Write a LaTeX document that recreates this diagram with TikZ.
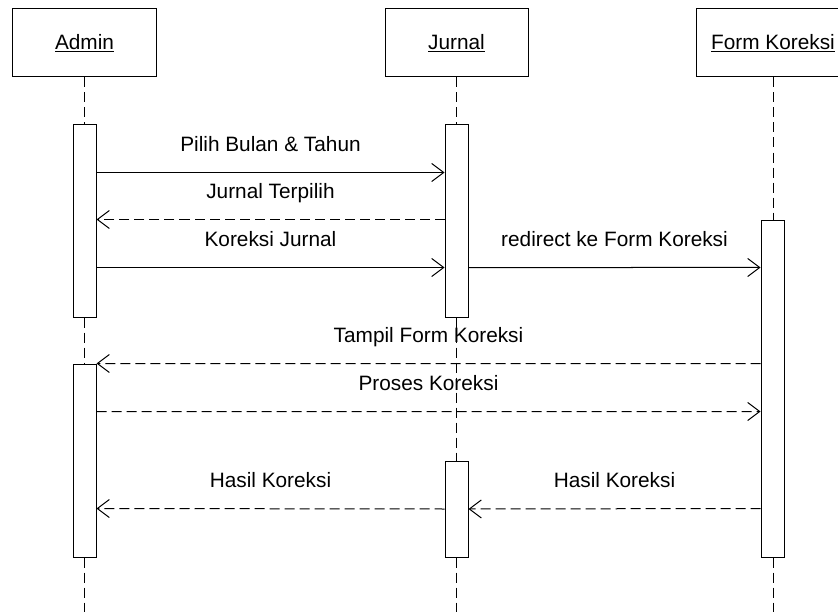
\documentclass[tikz,border=0pt]{standalone}
\usepackage{fontspec}
\setmainfont{Liberation Sans}
\usetikzlibrary{arrows.meta}
\begin{document}
\begin{tikzpicture}[x=1bp,y=-1bp,
  font=\fontsize{20.8bp}{25bp}\selectfont,
  actor/.style={draw, line width=1bp, fill=white, minimum height=68bp, inner sep=0pt},
  actbox/.style={draw, line width=1bp, fill=white, minimum width=23bp, inner sep=0pt},
  lifeline/.style={line width=1bp, dash pattern=on 10bp off 5bp},
  msg/.style={line width=1bp, -{Straight Barb[length=12bp,width=18bp]}},
  ret/.style={msg, dash pattern=on 10bp off 5bp},
  lbl/.style={anchor=base, yshift=21bp, inner sep=0pt}]
\useasboundingbox (0,0) rectangle (838,612);
% actors
\node[actor, minimum width=143bp] (admin) at (84.5,43) {\underline{Admin}};
\node[actor, minimum width=143bp] (jurnal) at (456.5,43) {\underline{Jurnal}};
\node[actor, minimum width=154bp] (form) at (773,43) {\underline{Form Koreksi}};
% lifelines
\coordinate (bot) at (0,612);
\draw[lifeline] (admin.south) -- (admin.south |- bot);
\draw[lifeline] (jurnal.south) -- (jurnal.south |- bot);
\draw[lifeline] (form.south) -- (form.south |- bot);
% activations
\node[actbox, minimum height=192bp] (a1) at (84.5,221) {};
\node[actbox, minimum height=193bp] (a2) at (84.5,460.5) {};
\node[actbox, minimum height=192bp] (j1) at (456.5,221) {};
\node[actbox, minimum height=96bp] (j2) at (456.5,509) {};
\node[actbox, minimum height=336bp] (f1) at (772.5,389) {};
% messages
\draw[msg] ([yshift=-48bp]a1.north east) -- ([yshift=-48bp]j1.north west)
  node[lbl, midway] {Pilih Bulan \& Tahun};
\draw[ret] ([yshift=-95bp]j1.north west) -- ([yshift=-95bp]a1.north east)
  node[lbl, midway] {Jurnal Terpilih};
\draw[msg] ([yshift=-143bp]a1.north east) -- ([yshift=-143bp]j1.north west)
  node[lbl, midway] {Koreksi Jurnal};
\draw[msg] ([yshift=-143bp]j1.north east) -- ([yshift=-47bp]f1.north west)
  node[lbl, midway] {redirect ke Form Koreksi};
\draw[ret] ([yshift=-143bp]f1.north west) -- (a2.north east)
  node[lbl, midway] {Tampil Form Koreksi};
\draw[ret] ([yshift=-48bp]a2.north east) -- ([yshift=-191bp]f1.north west)
  node[lbl, midway] {Proses Koreksi};
\draw[ret] (j2.west) -- ([yshift=-145bp]a2.north east)
  node[lbl, midway] {Hasil Koreksi};
\draw[ret] ([yshift=-288bp]f1.north west) -- (j2.east)
  node[lbl, midway] {Hasil Koreksi};
\end{tikzpicture}
\end{document}
